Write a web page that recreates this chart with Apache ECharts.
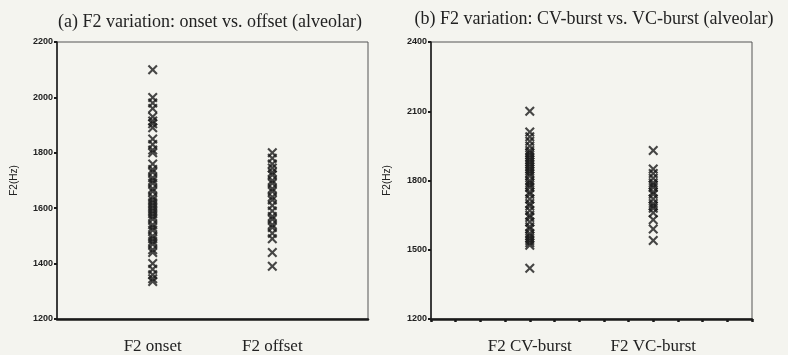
<!DOCTYPE html>
<html>
<head>
<meta charset="utf-8">
<script src="https://cdn.jsdelivr.net/npm/echarts@6/dist/echarts.min.js"></script>
<style>
  html, body { margin: 0; padding: 0; background: #f4f4ef; }
  #chart { width: 788px; height: 355px; }
</style>
</head>
<body>
<div id="chart"></div>
<script>
// panel titles
var titles = [
    '(a) F2 variation: onset vs. offset (alveolar)',
    '(b) F2 variation: CV-burst vs. VC-burst (alveolar)'
];

var leftCategories = ['F2 onset', 'F2 offset'];
var rightCategories = ['F2 CV-burst', 'F2 VC-burst'];

// F2 values in Hz
var onsetValues = [2100, 2000, 1980, 1960, 1930, 1915, 1905, 1890, 1850, 1830, 1810, 1800,
    1760, 1740, 1730, 1710, 1700, 1690, 1670, 1660, 1640, 1630, 1620, 1610, 1600, 1590,
    1580, 1570, 1560, 1540, 1530, 1520, 1500, 1490, 1480, 1470, 1450, 1440, 1400, 1380,
    1360, 1345, 1335];
var offsetValues = [1800, 1780, 1760, 1745, 1730, 1720, 1700, 1690, 1670, 1660, 1640, 1630,
    1610, 1590, 1570, 1560, 1540, 1530, 1510, 1490, 1440, 1390];
var cvBurstValues = [2100, 2010, 1990, 1970, 1950, 1930, 1920, 1910, 1900, 1890, 1880, 1870,
    1860, 1850, 1840, 1830, 1820, 1800, 1790, 1780, 1770, 1750, 1740, 1720, 1700, 1690,
    1670, 1650, 1640, 1620, 1600, 1590, 1570, 1560, 1550, 1540, 1530, 1520, 1420];
var vcBurstValues = [1930, 1850, 1830, 1810, 1790, 1780, 1770, 1750, 1740, 1720, 1700, 1690,
    1680, 1660, 1630, 1590, 1540];

var leftTicks = [1200, 2200, 200];   // min, max, step
var rightTicks = [1200, 2400, 300];

// SPSS-style x axis: 0..13, the two groups sit at 4 and 9
var slots = [4, 9];
var crossSymbol = 'path://M0,1.5 L1.5,0 L5,3.5 L8.5,0 L10,1.5 L6.5,5 L10,8.5 L8.5,10 L5,6.5 L1.5,10 L0,8.5 L3.5,5 Z';

function toPoints(values, slot) {
    return values.map(function (v) { return [slot, v]; });
}

function xAxisFor(gridIndex, cats, showTicks) {
    return {
        type: 'value',
        gridIndex: gridIndex,
        min: 0,
        max: 13,
        interval: 1,
        splitLine: { show: false },
        axisLine: { lineStyle: { color: '#1a1a1a', width: 2.5 } },
        axisTick: { show: showTicks, length: 3, lineStyle: { color: '#1a1a1a', width: 2.5 } },
        axisLabel: {
            margin: 19,
            color: '#222',
            fontFamily: 'Liberation Serif',
            fontSize: 17,
            formatter: function (v) {
                var i = slots.indexOf(v);
                return i >= 0 ? cats[i] : '';
            }
        }
    };
}

function yAxisFor(gridIndex, ticks, gap) {
    return {
        type: 'value',
        gridIndex: gridIndex,
        min: ticks[0],
        max: ticks[1],
        interval: ticks[2],
        name: 'F2(Hz)',
        nameLocation: 'middle',
        nameGap: gap,
        nameTextStyle: { color: '#222', fontSize: 10, fontFamily: 'Liberation Sans' },
        splitLine: { show: false },
        axisLine: { lineStyle: { color: '#1a1a1a', width: 1.5 } },
        axisTick: { length: 3, lineStyle: { color: '#1a1a1a', width: 2 } },
        axisLabel: {
            color: '#222', fontSize: 9, fontWeight: 'bold', margin: 4,
            fontFamily: 'Liberation Sans Narrow, Liberation Sans',
            formatter: function (v) { return String(v); }
        }
    };
}

function scatter(values, slot, idx) {
    return {
        type: 'scatter',
        xAxisIndex: idx,
        yAxisIndex: idx,
        symbol: crossSymbol,
        symbolSize: 10,
        itemStyle: { color: '#1a1a1a' },
        data: toPoints(values, slot)
    };
}

var dom = document.getElementById('chart');
var myChart = echarts.init(dom, null, { renderer: 'canvas' });

var option = {
    backgroundColor: '#f4f4ef',
    animation: false,
    title: [
        { text: titles[0], left: 205, top: 8, textAlign: 'center',
          textStyle: { fontFamily: 'Liberation Serif', fontWeight: 'normal', fontSize: 18, color: '#222' } },
        { text: titles[1], left: 589, top: 5, textAlign: 'center',
          textStyle: { fontFamily: 'Liberation Serif', fontWeight: 'normal', fontSize: 18, color: '#222' } }
    ],
    grid: [
        { left: 57, right: 420, top: 42, bottom: 35, show: true, borderColor: '#555', borderWidth: 1 },
        { left: 431, right: 36, top: 42, bottom: 34, show: true, borderColor: '#555', borderWidth: 1 }
    ],
    xAxis: [
        xAxisFor(0, leftCategories, false),
        xAxisFor(1, rightCategories, true)
    ],
    yAxis: [
        yAxisFor(0, leftTicks, 38),
        yAxisFor(1, rightTicks, 39)
    ],
    series: [
        scatter(onsetValues, slots[0], 0),
        scatter(offsetValues, slots[1], 0),
        scatter(cvBurstValues, slots[0], 1),
        scatter(vcBurstValues, slots[1], 1)
    ]
};

if (option && typeof option === 'object') {
    myChart.setOption(option);
}

window.addEventListener('resize', myChart.resize);
</script>
</body>
</html>
